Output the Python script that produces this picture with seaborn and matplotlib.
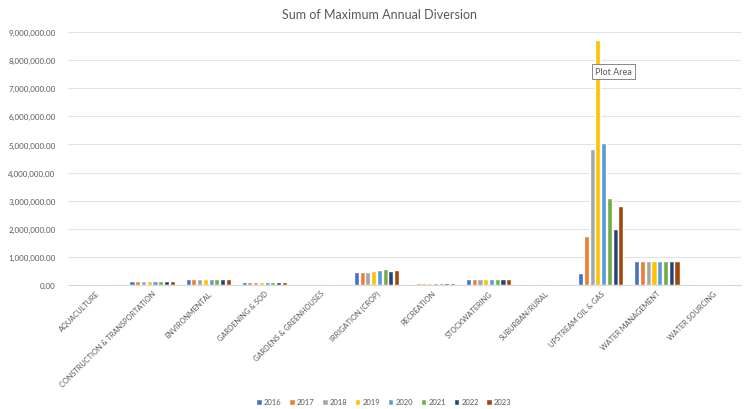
import matplotlib
matplotlib.use("Agg")
import matplotlib.pyplot as plt
import seaborn as sns
import pandas as pd
from matplotlib.ticker import FuncFormatter

categories = ["AQUACULTURE", "CONSTRUCTION & TRANSPORTATION", "ENVIRONMENTAL",
              "GARDENING & SOD", "GARDENS & GREENHOUSES", "IRRIGATION (CROP)",
              "RECREATION", "STOCKWATERING", "SUBURBAN/RURAL",
              "UPSTREAM OIL & GAS", "WATER MANAGEMENT", "WATER SOURCING"]
years = ["2016", "2017", "2018", "2019", "2020", "2021", "2022", "2023"]

v2016 = [40000, 140000, 230000, 120000, 0, 480000, 40000, 210000, 30000, 420000, 860000, 40000]
v2017 = [40000, 140000, 230000, 120000, 0, 480000, 60000, 210000, 30000, 1740000, 860000, 40000]
v2018 = [40000, 160000, 220000, 120000, 0, 480000, 60000, 210000, 30000, 4850000, 860000, 40000]
v2019 = [40000, 140000, 230000, 120000, 0, 490000, 60000, 210000, 0, 8700000, 860000, 40000]
v2020 = [40000, 140000, 230000, 120000, 10000, 530000, 60000, 210000, 30000, 5060000, 860000, 40000]
v2021 = [40000, 140000, 230000, 120000, 30000, 580000, 60000, 210000, 30000, 3100000, 860000, 40000]
v2022 = [40000, 140000, 230000, 120000, 40000, 490000, 60000, 210000, 30000, 2000000, 860000, 40000]
v2023 = [40000, 140000, 230000, 120000, 40000, 540000, 60000, 210000, 30000, 2820000, 860000, 40000]

series = [v2016, v2017, v2018, v2019, v2020, v2021, v2022, v2023]
colors = ["#4472C4", "#ED7D31", "#A5A5A5", "#FFC000", "#5B9BD5", "#70AD47", "#264478", "#9E480E"]

rows = []
for y, vals in zip(years, series):
    for c, v in zip(categories, vals):
        rows.append({"Category": c, "Year": y, "Value": v})
df = pd.DataFrame(rows)

sns.set_theme(style="white")
plt.rcParams['font.family'] = ['Lato', 'DejaVu Sans']

fig = plt.figure(figsize=(7.49, 4.10), dpi=100)
ax = fig.add_axes([68/749, 1 - 286/410, (741-68)/749, (286-33)/410])

sns.barplot(data=df, x="Category", y="Value", hue="Year", order=categories,
            hue_order=years, palette=colors, width=0.82, gap=0.12,
            saturation=1, ax=ax, legend=True)

ax.set_ylim(0, 9000000)
ax.set_yticks(range(0, 9000001, 1000000))
ax.yaxis.set_major_formatter(FuncFormatter(lambda v, p: f"{v:,.2f}"))
ax.set_xlim(-0.5, len(categories) - 0.5)
ax.grid(axis="y", color="#E3E3E3", linewidth=0.8)
ax.set_axisbelow(True)
for s in ["top", "right", "left"]:
    ax.spines[s].set_visible(False)
ax.spines["bottom"].set_color("#D9D9D9")
ax.spines["bottom"].set_linewidth(0.8)
ax.set_xlabel("")
ax.set_ylabel("")
ax.tick_params(axis="y", labelsize=5.8, colors="#595959", length=0, pad=9)
ax.tick_params(axis="x", labelsize=5.3, colors="#595959", length=0, pad=3)
plt.setp(ax.get_xticklabels(), rotation=45, ha="right", rotation_mode="anchor")

fig.text(380/749, 1 - 15/410, "Sum of Maximum Annual Diversion", fontsize=9,
         color="#595959", ha="center", va="center")

handles, labels = ax.get_legend_handles_labels()
ax.legend_.remove()
fig.legend(handles, labels, loc="center", bbox_to_anchor=(384/749, 1 - 403/410),
           ncol=8, frameon=False, fontsize=5.5, handlelength=0.7, handleheight=0.7,
           handletextpad=0.3, columnspacing=1.0, labelcolor="#595959")

ax.text(8.9, 7600000, "Plot Area", fontsize=6.5, color="#595959", va="center",
        bbox=dict(boxstyle="square,pad=0.3", fc="white", ec="#767676", lw=0.6))

fig.savefig("out.png", dpi=100, facecolor="white")
